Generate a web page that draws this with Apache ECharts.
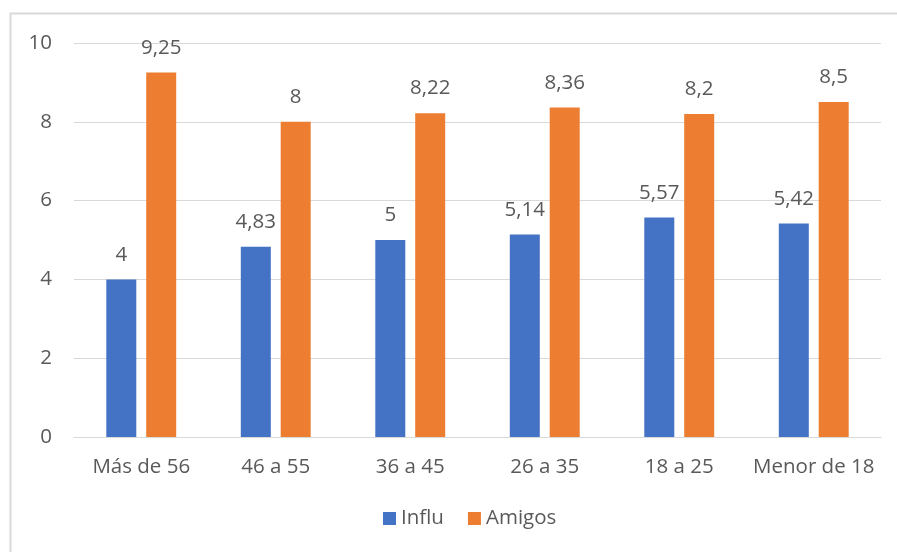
<!DOCTYPE html>
<html>
<head>
<meta charset="utf-8">
<script src="https://cdn.jsdelivr.net/npm/echarts@6/dist/echarts.min.js"></script>
<style>
  html, body { margin: 0; padding: 0; background: #fff; }
  #chart { width: 897px; height: 552px; }
</style>
</head>
<body>
<div id="chart"></div>
<script>
// Age groups and average scores per source
const categories = ['Más de 56', '46 a 55', '36 a 45', '26 a 35', '18 a 25', 'Menor de 18'];
const influValues = [4, 4.83, 5, 5.14, 5.57, 5.42];
const amigosValues = [9.25, 8, 8.22, 8.36, 8.2, 8.5];
const yTicks = [0, 2, 4, 6, 8, 10];

const FONT = '"Open Sans", "Noto Sans", sans-serif';
const TEXT = '#595959';
const SIZE = 20.5;

const fmt = p => String(p.value).replace('.', ',');

const chart = echarts.init(document.getElementById('chart'), null, { renderer: 'canvas' });
chart.setOption({
  animation: false,
  backgroundColor: '#fff',
  textStyle: { fontFamily: FONT },
  graphic: [{
    type: 'polyline',
    shape: { points: [[10.5, 560], [10.5, 13.5], [900, 13.5]] },
    style: { stroke: '#d9d9d9', lineWidth: 2, fill: null },
    silent: true
  }],
  grid: { left: 74, right: 16, top: 43, bottom: 115 },
  legend: {
    bottom: 18,
    left: 378,
    itemWidth: 13,
    itemHeight: 13,
    itemGap: 24,
    icon: 'rect',
    textStyle: { color: TEXT, fontSize: SIZE, fontFamily: FONT },
    data: ['Influ', 'Amigos']
  },
  xAxis: {
    type: 'category',
    data: categories,
    axisLine: { lineStyle: { color: '#d9d9d9', width: 1 } },
    axisTick: { show: false },
    axisLabel: { color: TEXT, fontSize: SIZE, margin: 20, interval: 0, fontFamily: FONT }
  },
  yAxis: {
    type: 'value',
    min: yTicks[0],
    max: yTicks[yTicks.length - 1],
    interval: 2,
    axisLine: { show: false },
    axisTick: { show: false },
    splitLine: { lineStyle: { color: '#d9d9d9', width: 1 } },
    axisLabel: { color: TEXT, fontSize: SIZE, margin: 22, fontFamily: FONT }
  },
  series: [
    {
      name: 'Influ',
      type: 'bar',
      data: influValues,
      barWidth: 30,
      barGap: '33%',
      itemStyle: { color: '#4472c4' },
      label: { show: true, position: 'top', distance: 14, color: TEXT, fontSize: SIZE, fontFamily: FONT, formatter: fmt }
    },
    {
      name: 'Amigos',
      type: 'bar',
      data: amigosValues,
      barWidth: 30,
      itemStyle: { color: '#ed7d31' },
      label: { show: true, position: 'top', distance: 14, color: TEXT, fontSize: SIZE, fontFamily: FONT, formatter: fmt }
    }
  ]
});
</script>
</body>
</html>
